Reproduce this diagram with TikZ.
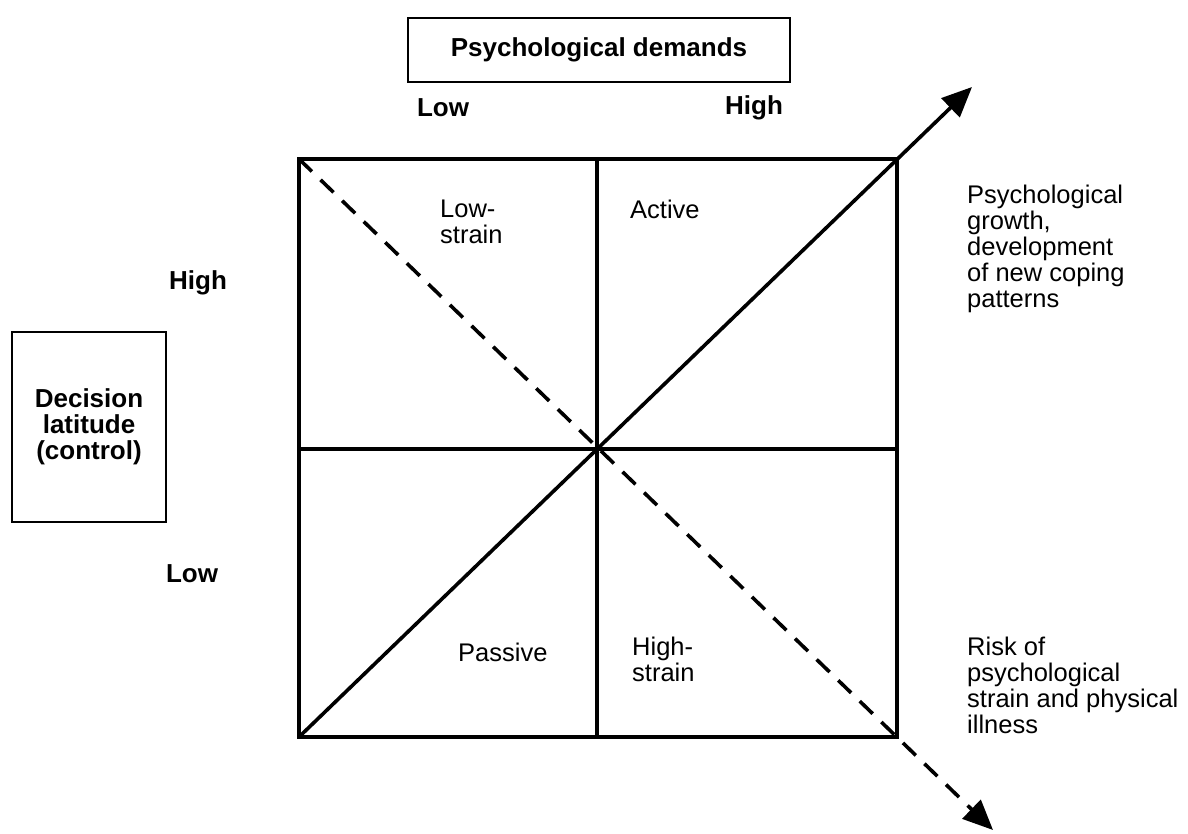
\documentclass[tikz,border=0pt]{standalone}
\usepackage{fontspec}
\setmainfont{Liberation Sans}
\usetikzlibrary{arrows.meta}
\begin{document}
\begin{tikzpicture}[x=1pt,y=-1pt,
  boxframe/.style={draw, line width=2pt, inner sep=0pt, align=center,
    font=\bfseries\fontsize{26}{26}\selectfont},
  gridline/.style={line width=3.6pt, line cap=butt, line join=miter},
  lbl/.style={inner sep=0pt, align=left, font=\fontsize{25.5}{26}\selectfont},
  blbl/.style={inner sep=0pt, font=\bfseries\fontsize{26}{26}\selectfont},
  tip/.style={-{Triangle[length=30pt,width=26pt]}}
]
\useasboundingbox (0,0) rectangle (1188,834);
% square corners
\coordinate (TL) at (299,159);
\coordinate (TR) at (897,159);
\coordinate (BL) at (299,737);
\coordinate (BR) at (897,737);
\coordinate (TM) at (597,159);
\coordinate (BM) at (597,737);
\coordinate (LM) at (299,449);
\coordinate (RM) at (897,449);
\coordinate (A1) at (972,87);
\coordinate (A2) at (993,830);
\draw[gridline] (TL) rectangle (BR);
\draw[gridline] (TM) -- (BM);
\draw[gridline] (LM) -- (RM);
\draw[gridline, tip] (BL) -- (A1);
\draw[gridline, tip, dash pattern=on 18pt off 12pt] (TL) -- (A2);
% boxes
\node[boxframe, minimum width=382pt, minimum height=64pt] (pd) at (599,50) {Psychological demands};
\node[boxframe, minimum width=154pt, minimum height=190pt] (dl) at (89,427) {Decision\\latitude\\(control)};
% axis labels
\node[blbl] (lowT) at (443,108) {Low};
\node[blbl] (highT) at (754,108) {High};
\node[blbl] (highL) at (198,283) {High};
\node[blbl] (lowL) at (192,574) {Low};
% quadrant labels
\node[lbl, anchor=north west] (lowstrain) at (440,200) {Low-\\strain};
\node[lbl, anchor=north west] (active) at (630,200) {Active};
\node[lbl, anchor=north west] (passive) at (458,643) {Passive};
\node[lbl, anchor=north west] (highstrain) at (632,637) {High-\\strain};
% outcome labels
\node[lbl, anchor=north west] (growth) at (967,185) {Psychological\\growth,\\development\\of new coping\\patterns};
\node[lbl, anchor=north west] (risk) at (967,637) {Risk of\\psychological\\strain and physical\\illness};
\end{tikzpicture}
\end{document}
